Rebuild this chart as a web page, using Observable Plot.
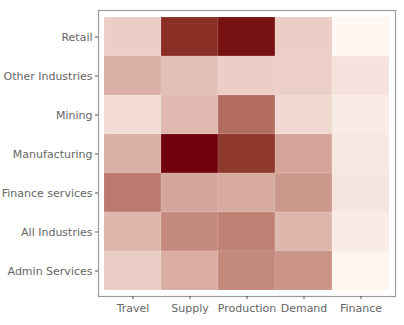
<!DOCTYPE html>
<html><head><meta charset="utf-8">
<script src="https://cdn.jsdelivr.net/npm/d3@7"></script>
<script src="https://cdn.jsdelivr.net/npm/@observablehq/plot@0.6"></script>
<style>body{margin:0;background:#fff}</style>
</head><body><div id="chart"></div>
<script>
const columns = ["Travel", "Supply", "Production", "Demand", "Finance"];
const rows = ["Retail", "Other Industries", "Mining", "Manufacturing", "Finance services", "All Industries", "Admin Services"];
const values = {
  "Retail":           [0.17, 0.86, 0.96, 0.17, 0.00],
  "Other Industries": [0.30, 0.23, 0.17, 0.16, 0.085],
  "Mining":           [0.11, 0.26, 0.59, 0.125, 0.05],
  "Manufacturing":    [0.30, 1.00, 0.82, 0.35, 0.065],
  "Finance services": [0.53, 0.34, 0.32, 0.40, 0.07],
  "All Industries":   [0.27, 0.46, 0.50, 0.27, 0.05],
  "Admin Services":   [0.18, 0.31, 0.47, 0.42, 0.01]
};
const data = rows.flatMap(r => columns.map((c, i) => ({row: r, col: c, value: values[r][i]})));

const chart = Plot.plot({
  width: 404, height: 325,
  marginLeft: 104, marginRight: 15, marginTop: 14, marginBottom: 33,
  style: {fontFamily: "DejaVu Sans", fontSize: "11px", color: "#666", background: "#fff"},
  x: {domain: columns, padding: 0, label: null},
  y: {domain: rows, padding: 0, label: null},
  color: {type: "linear", domain: [0, 1], range: ["#fff7f2", "#72000a"], interpolate: "lab"},
  marks: [
    Plot.cell(data, {x: "col", y: "row", fill: "value", stroke: "#ffffff", strokeOpacity: 0.2, strokeWidth: 0.6}),
    Plot.frame({stroke: "#9a9a9a", strokeWidth: 1.2, insetLeft: -6, insetRight: -6, insetTop: -4, insetBottom: -4}),
    Plot.axisX({anchor: "bottom", dy: 4, tickSize: 3, tickPadding: 5, stroke: "#555", label: null}),
    Plot.axisY({anchor: "left", dx: -6, tickSize: 3, tickPadding: 3, stroke: "#555", label: null})
  ]
});
document.getElementById("chart").appendChild(chart);
</script>
</body></html>
